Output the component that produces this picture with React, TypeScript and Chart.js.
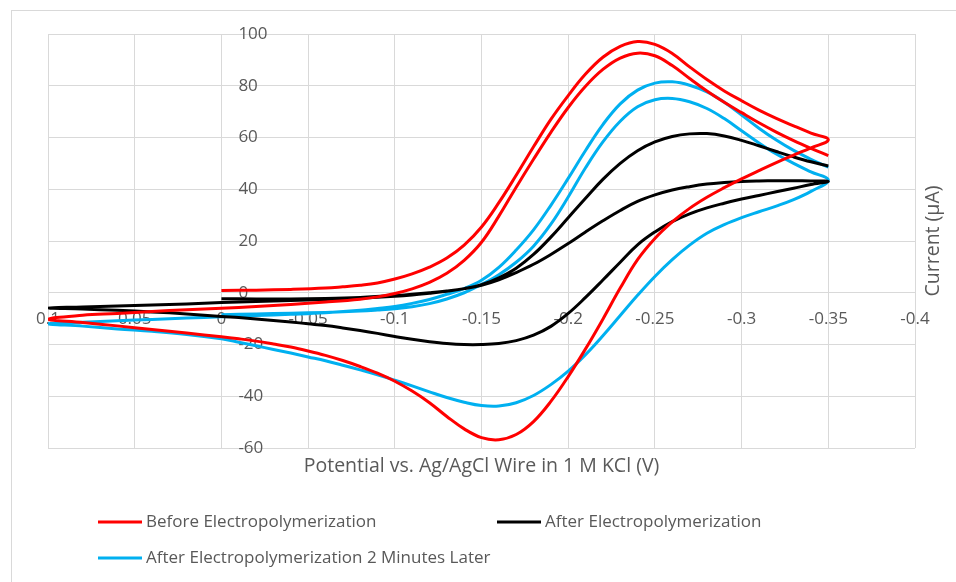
import React, { useEffect, useRef } from "react";
import { Chart, registerables } from "chart.js";

Chart.register(...registerables);

// ---- tick values / labels ----
const xTicks = [0.1, 0.05, 0, -0.05, -0.1, -0.15, -0.2, -0.25, -0.3, -0.35, -0.4];
const xTickLabels = ["0.1", "0.05", "0", "-0.05", "-0.1", "-0.15", "-0.2", "-0.25", "-0.3", "-0.35", "-0.4"];
const yTicks = [-60, -40, -20, 0, 20, 40, 60, 80, 100];
const yTickLabels = ["-60", "-40", "-20", "0", "20", "40", "60", "80", "100"];

const xTitle = "Potential vs. Ag/AgCl Wire in 1 M KCl (V)";
const yTitle = "Current (\u00b5A)";

const seriesNames = [
  "Before Electropolymerization",
  "After Electropolymerization",
  "After Electropolymerization 2 Minutes Later",
];
const seriesColors = ["#FF0000", "#000000", "#00B0F0"];

// ---- Before Electropolymerization ----
const redFwd1Potential = [0, -0.02, -0.04, -0.06, -0.07, -0.08, -0.09, -0.1, -0.11, -0.12, -0.13, -0.14, -0.15, -0.16, -0.17, -0.18, -0.19, -0.2, -0.21, -0.22, -0.23, -0.24, -0.25, -0.26, -0.27, -0.28, -0.29, -0.3, -0.31, -0.32, -0.33, -0.34, -0.35];
const redFwd1Current = [0.9, 1.0, 1.3, 1.8, 2.3, 2.9, 3.8, 5.3, 7.3, 9.9, 13.4, 18.4, 25.4, 34.8, 45.4, 56.4, 67, 76.2, 84.5, 91, 95.2, 97.1, 96, 92.5, 87.3, 82.4, 78, 74.2, 70.6, 67.4, 64.5, 61.7, 59.1];
const redRevPotential = [-0.34, -0.33, -0.32, -0.31, -0.3, -0.29, -0.28, -0.27, -0.26, -0.25, -0.24, -0.23, -0.22, -0.21, -0.2, -0.19, -0.18, -0.17, -0.16, -0.15, -0.14, -0.13, -0.12, -0.11, -0.1, -0.09, -0.08, -0.07, -0.06, -0.05, -0.04, -0.03, -0.02, -0.01, 0, 0.02, 0.04, 0.06, 0.08, 0.1];
const redRevCurrent = [56, 53.2, 50.3, 47.2, 44, 40.6, 36.9, 32.6, 27.4, 21, 12.8, 1.8, -10.2, -21.7, -32.4, -42, -49.8, -54.8, -56.8, -56, -52.6, -47.8, -42.5, -38, -34.2, -31.1, -28.5, -26.2, -24.2, -22.5, -21, -19.8, -18.7, -17.8, -17, -15.6, -14.2, -12.8, -11.5, -10.2];
const redFwd2Potential = [0.08, 0.06, 0.04, 0.02, 0, -0.02, -0.04, -0.06, -0.08, -0.09, -0.1, -0.11, -0.12, -0.13, -0.14, -0.15, -0.16, -0.17, -0.18, -0.19, -0.2, -0.21, -0.22, -0.23, -0.24, -0.25, -0.26, -0.27, -0.28, -0.29, -0.3, -0.31, -0.32, -0.33, -0.34, -0.35];
const redFwd2Current = [-8.7, -8, -7.2, -6.6, -6, -5.3, -4.5, -3.6, -2.5, -1.6, -0.3, 1.5, 4, 7.5, 12.5, 19.5, 29.6, 40.8, 51.6, 62, 71.6, 79.8, 86.3, 90.7, 92.6, 91.6, 87.8, 82.8, 78, 73.6, 69.6, 65.7, 62.1, 58.8, 55.8, 53];

// ---- After Electropolymerization ----
const blackFwd1Potential = [0, -0.02, -0.04, -0.06, -0.08, -0.1, -0.11, -0.12, -0.13, -0.14, -0.15, -0.16, -0.17, -0.18, -0.19, -0.2, -0.21, -0.22, -0.23, -0.24, -0.25, -0.26, -0.27, -0.28, -0.29, -0.3, -0.31, -0.32, -0.33, -0.34, -0.35];
const blackFwd1Current = [-2.3, -2.4, -2.4, -2.2, -1.8, -1.1, -0.6, 0, 0.7, 1.6, 2.9, 5, 7.8, 11, 14.8, 19, 23.5, 27.8, 31.8, 35.3, 37.8, 39.7, 41, 42, 42.6, 43, 43.2, 43.3, 43.3, 43.2, 43];
const blackRevPotential = [-0.34, -0.33, -0.32, -0.31, -0.3, -0.29, -0.28, -0.27, -0.26, -0.25, -0.24, -0.23, -0.22, -0.21, -0.2, -0.19, -0.18, -0.17, -0.16, -0.15, -0.14, -0.13, -0.12, -0.11, -0.1, -0.09, -0.08, -0.07, -0.06, -0.05, -0.04, -0.03, -0.02, -0.01, 0, 0.02, 0.04, 0.06, 0.08, 0.1];
const blackRevCurrent = [41.8, 40.4, 39, 37.6, 36.2, 34.6, 32.8, 30.5, 27.5, 23.5, 18.5, 11.8, 4.9, -1.8, -8, -13, -16.4, -18.5, -19.6, -20, -20, -19.6, -18.9, -18, -16.9, -15.7, -14.6, -13.6, -12.7, -12, -11.3, -10.7, -10.1, -9.6, -9.2, -8.2, -7.4, -6.8, -6.3, -5.9];
const blackFwd2Potential = [0.08, 0.06, 0.04, 0.02, 0, -0.02, -0.04, -0.06, -0.08, -0.1, -0.11, -0.12, -0.13, -0.14, -0.15, -0.16, -0.17, -0.18, -0.19, -0.2, -0.21, -0.22, -0.23, -0.24, -0.25, -0.26, -0.27, -0.28, -0.29, -0.3, -0.31, -0.32, -0.33, -0.34, -0.35];
const blackFwd2Current = [-5.5, -5.1, -4.7, -4.3, -3.8, -3.4, -3, -2.6, -2.1, -1.4, -0.9, -0.2, 0.6, 1.6, 3.1, 5.8, 9.5, 14.8, 21.5, 29, 36.5, 43.8, 50, 54.9, 58.3, 60.4, 61.4, 61.5, 60.6, 58.9, 56.8, 54.6, 52.5, 50.6, 49];

// ---- After Electropolymerization 2 Minutes Later ----
const blueFwd1Potential = [0, -0.02, -0.04, -0.06, -0.08, -0.09, -0.1, -0.11, -0.12, -0.13, -0.14, -0.15, -0.16, -0.17, -0.18, -0.19, -0.2, -0.21, -0.22, -0.23, -0.24, -0.25, -0.26, -0.27, -0.28, -0.29, -0.3, -0.31, -0.32, -0.33, -0.34, -0.35];
const blueFwd1Current = [-8.5, -8.2, -7.9, -7.6, -7.1, -6.7, -6.2, -5.4, -4.2, -2.4, 0, 3.2, 7, 11.8, 18, 26.5, 37, 48.3, 58.3, 66.3, 71.9, 74.6, 75.1, 73.8, 71.2, 67.3, 62.6, 57.9, 53.6, 50, 46.7, 43.5];
const blueRevPotential = [-0.34, -0.33, -0.32, -0.31, -0.3, -0.29, -0.28, -0.27, -0.26, -0.25, -0.24, -0.23, -0.22, -0.21, -0.2, -0.19, -0.18, -0.17, -0.16, -0.15, -0.14, -0.13, -0.12, -0.11, -0.1, -0.09, -0.08, -0.07, -0.06, -0.05, -0.04, -0.03, -0.02, -0.01, 0, 0.02, 0.04, 0.06, 0.08, 0.1];
const blueRevCurrent = [39.2, 36, 33.5, 31.3, 29, 26.3, 23, 18.4, 12.8, 6.3, -1, -8.8, -16.6, -23.9, -30.3, -35.5, -39.7, -42.5, -43.8, -43.6, -42.3, -40.5, -38.3, -36, -33.8, -31.7, -29.8, -28, -26.3, -24.8, -23.3, -21.9, -20.5, -19.1, -17.8, -16.1, -14.9, -14, -12.9, -12];
const blueFwd2Potential = [0.08, 0.06, 0.04, 0.02, 0, -0.02, -0.04, -0.06, -0.08, -0.09, -0.1, -0.11, -0.12, -0.13, -0.14, -0.15, -0.16, -0.17, -0.18, -0.19, -0.2, -0.21, -0.22, -0.23, -0.24, -0.25, -0.26, -0.27, -0.28, -0.29, -0.3, -0.31, -0.32, -0.33, -0.34, -0.35];
const blueFwd2Current = [-11.4, -10.8, -10.3, -9.8, -9.3, -8.8, -8.3, -7.7, -6.8, -6.1, -5.3, -4.1, -2.6, -0.6, 1.6, 4.8, 9.8, 16.5, 24.3, 33.8, 44.2, 55, 65, 73, 78.3, 81, 81.5, 80.2, 77.6, 73.6, 68.7, 63.6, 59, 55, 51.6, 48.5];

const seriesPotentials = [
  [...redFwd1Potential, ...redRevPotential, ...redFwd2Potential],
  [...blackFwd1Potential, ...blackRevPotential, ...blackFwd2Potential],
  [...blueFwd1Potential, ...blueRevPotential, ...blueFwd2Potential],
];
const seriesCurrents = [
  [...redFwd1Current, ...redRevCurrent, ...redFwd2Current],
  [...blackFwd1Current, ...blackRevCurrent, ...blackFwd2Current],
  [...blueFwd1Current, ...blueRevCurrent, ...blueFwd2Current],
];

const FONT = '"Open Sans", "Noto Sans", sans-serif';
const TEXT = "#595959";
const GRID = "#d9d9d9";

const decorPlugin = {
  id: "decor",
  beforeDraw(chart: any) {
    const ctx = chart.ctx;
    ctx.save();
    ctx.fillStyle = "#ffffff";
    ctx.fillRect(0, 0, chart.width, chart.height);
    ctx.strokeStyle = GRID;
    ctx.lineWidth = 1;
    ctx.strokeRect(11.5, 10.5, chart.width + 20, chart.height + 20);
    ctx.restore();
  },
  beforeDatasetsDraw(chart: any) {
    const ctx = chart.ctx;
    const xs = chart.scales.x;
    const ys = chart.scales.y;
    const y0 = ys.getPixelForValue(0);
    const x0 = xs.getPixelForValue(0);
    ctx.save();
    ctx.font = `17px ${FONT}`;
    ctx.fillStyle = TEXT;
    ctx.textAlign = "center";
    ctx.textBaseline = "middle";
    xTicks.forEach((v, i) => {
      ctx.fillText(xTickLabels[i], xs.getPixelForValue(v), y0 + 26);
    });
    ctx.textAlign = "left";
    yTicks.forEach((v, i) => {
      ctx.fillText(yTickLabels[i], x0 + 17, ys.getPixelForValue(v));
    });
    ctx.restore();
  },
  afterDraw(chart: any) {
    const ctx = chart.ctx;
    const area = chart.chartArea;
    ctx.save();
    ctx.fillStyle = TEXT;
    ctx.font = `19.5px ${FONT}`;
    ctx.textAlign = "center";
    ctx.textBaseline = "middle";
    ctx.fillText(xTitle, (area.left + area.right) / 2, 466);
    ctx.save();
    ctx.translate(933, (area.top + area.bottom) / 2);
    ctx.rotate(-Math.PI / 2);
    ctx.fillText(yTitle, 0, 0);
    ctx.restore();

    const legendPos = [
      { x: 98, y: 522 },
      { x: 497, y: 522 },
      { x: 98, y: 558 },
    ];
    ctx.font = `17px ${FONT}`;
    ctx.textAlign = "left";
    chart.data.datasets.forEach((ds: any, i: number) => {
      const p = legendPos[i];
      ctx.strokeStyle = ds.borderColor;
      ctx.lineWidth = 3;
      ctx.beginPath();
      ctx.moveTo(p.x, p.y);
      ctx.lineTo(p.x + 44, p.y);
      ctx.stroke();
      ctx.fillStyle = TEXT;
      ctx.fillText(ds.label, p.x + 48, p.y);
    });
    ctx.restore();
  },
};

export default function App() {
  const ref = useRef<HTMLCanvasElement | null>(null);

  useEffect(() => {
    if (!ref.current) return;
    const datasets = seriesNames.map((name, s) => ({
      label: name,
      data: seriesPotentials[s].map((x, i) => ({ x, y: seriesCurrents[s][i] })),
      borderColor: seriesColors[s],
      backgroundColor: seriesColors[s],
      borderWidth: 3,
      pointRadius: 0,
      tension: 0.4,
      fill: false,
      showLine: true,
    }));

    const chart = new Chart(ref.current, {
      type: "scatter",
      data: { datasets },
      plugins: [decorPlugin],
      options: {
        animation: false,
        responsive: false,
        devicePixelRatio: 1,
        layout: { padding: { left: 48, top: 34, right: 41, bottom: 134 } },
        plugins: { legend: { display: false }, tooltip: { enabled: false } },
        scales: {
          x: {
            type: "linear",
            min: -0.4,
            max: 0.1,
            reverse: true,
            afterBuildTicks: (s: any) => {
              s.ticks = xTicks.map((v) => ({ value: v }));
            },
            afterFit: (s: any) => {
              s.height = 0;
            },
            ticks: { display: false },
            grid: { color: GRID, lineWidth: 1, drawTicks: false },
            border: { display: false },
          },
          y: {
            type: "linear",
            min: -60,
            max: 100,
            afterBuildTicks: (s: any) => {
              s.ticks = yTicks.map((v) => ({ value: v }));
            },
            afterFit: (s: any) => {
              s.width = 0;
            },
            ticks: { display: false },
            grid: { color: GRID, lineWidth: 1, drawTicks: false },
            border: { display: false },
          },
        },
      } as any,
    });
    return () => chart.destroy();
  }, []);

  return (
    <div style={{ position: "absolute", left: 0, top: 0, width: 956, height: 582, background: "#fff" }}>
      <canvas ref={ref} width={956} height={582} style={{ width: 956, height: 582, display: "block" }} />
    </div>
  );
}
